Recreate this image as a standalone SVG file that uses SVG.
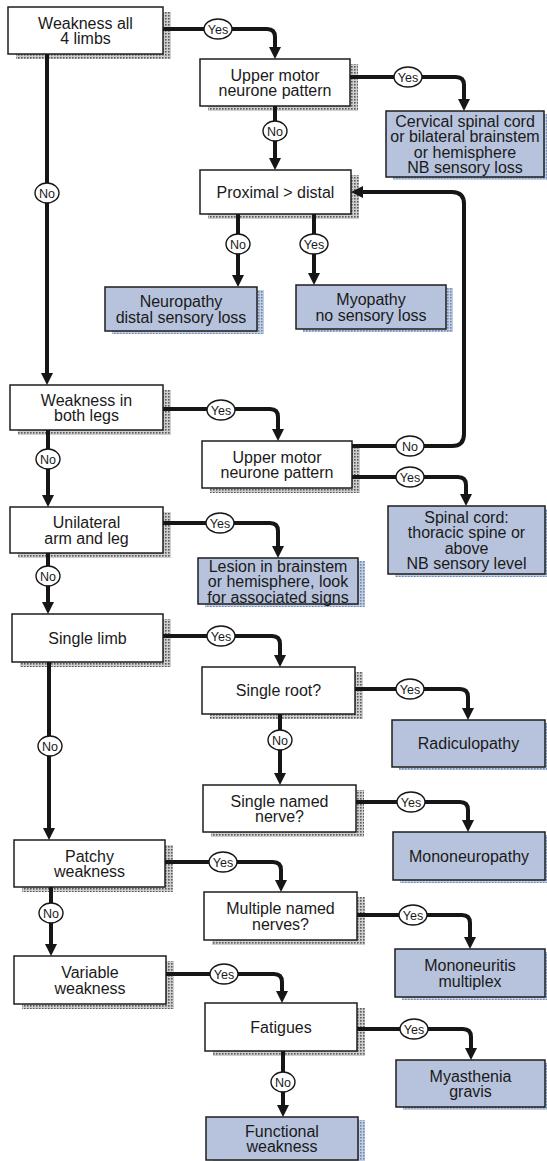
<svg xmlns="http://www.w3.org/2000/svg" width="547" height="1161" viewBox="0 0 547 1161">
<defs>
<pattern id="htw" width="3" height="3" patternUnits="userSpaceOnUse"><rect width="3" height="3" fill="#cfcfcf"/><rect width="1.6" height="1.6" fill="#5a5a5a"/></pattern>
<pattern id="htb" width="3" height="3" patternUnits="userSpaceOnUse"><rect width="3" height="3" fill="#c2cde2"/><rect width="1.6" height="1.6" fill="#7088b8"/></pattern>
<marker id="ah" viewBox="0 0 12 12" markerWidth="12" markerHeight="12" markerUnits="userSpaceOnUse" refX="0" refY="6" orient="auto"><path d="M0,0 L12,6 L0,12 z" fill="#161616"/></marker>
</defs>
<style>
.box{fill:#fff;stroke:#1e1e1e;stroke-width:1.5}
.res{fill:#b7c3dc;stroke:#1e1e1e;stroke-width:1.5}
.shw{fill:url(#htw)}
.shb{fill:url(#htb)}
text{font-family:"Liberation Sans",Arial,Helvetica,sans-serif;fill:#1a1a1a;text-anchor:middle}
.t{font-size:16px}
.l{font-size:12.5px}
.c{fill:none;stroke:#161616;stroke-width:4;stroke-linejoin:round;marker-end:url(#ah)}
.lab{fill:#fff;stroke:#161616;stroke-width:1.4}
</style>
<rect width="547" height="1161" fill="#fff"/>

<g id="n1"><rect class="shw" x="16" y="12" width="155" height="47"/><rect class="box" x="8" y="7" width="155" height="47"/><text class="t" x="85.5" y="28.5">Weakness all</text><text class="t" x="85.5" y="44">4 limbs</text></g>
<g id="n2"><rect class="shw" x="208" y="64" width="150" height="47"/><rect class="box" x="200" y="59" width="150" height="47"/><text class="t" x="275" y="80.5">Upper motor</text><text class="t" x="275" y="96">neurone pattern</text></g>
<g id="n3"><rect class="shb" x="393" y="114" width="158" height="66"/><rect class="res" x="386" y="111" width="158" height="66"/><text class="t" x="465" y="126.5">Cervical spinal cord</text><text class="t" x="465" y="142">or bilateral brainstem</text><text class="t" x="465" y="157.5">or hemisphere</text><text class="t" x="465" y="173">NB sensory loss</text></g>
<g id="n4"><rect class="shw" x="208" y="175" width="151" height="44"/><rect class="box" x="200" y="170" width="151" height="44"/><text class="t" x="275.5" y="197.5">Proximal &gt; distal</text></g>
<g id="n5"><rect class="shb" x="112" y="290" width="152" height="44"/><rect class="res" x="105" y="287" width="152" height="44"/><text class="t" x="181" y="307">Neuropathy</text><text class="t" x="181" y="322.5">distal sensory loss</text></g>
<g id="n6"><rect class="shb" x="303" y="288" width="150" height="44"/><rect class="res" x="296" y="285" width="150" height="44"/><text class="t" x="371" y="305">Myopathy</text><text class="t" x="371" y="320.5">no sensory loss</text></g>
<g id="n7"><rect class="shw" x="18" y="390" width="153" height="45"/><rect class="box" x="10" y="385" width="153" height="45"/><text class="t" x="86.5" y="405.5">Weakness in</text><text class="t" x="86.5" y="421">both legs</text></g>
<g id="n8"><rect class="shw" x="210" y="446" width="150" height="47"/><rect class="box" x="202" y="441" width="150" height="47"/><text class="t" x="277" y="462.5">Upper motor</text><text class="t" x="277" y="478">neurone pattern</text></g>
<g id="n9"><rect class="shb" x="395" y="509" width="157" height="68"/><rect class="res" x="388" y="506" width="157" height="68"/><text class="t" x="466.5" y="522.5">Spinal cord:</text><text class="t" x="466.5" y="538">thoracic spine or</text><text class="t" x="466.5" y="553.5">above</text><text class="t" x="466.5" y="569">NB sensory level</text></g>
<g id="n10"><rect class="shw" x="18" y="512" width="153" height="46"/><rect class="box" x="10" y="507" width="153" height="46"/><text class="t" x="86.5" y="528">Unilateral</text><text class="t" x="86.5" y="543.5">arm and leg</text></g>
<g id="n11"><rect class="shb" x="205" y="561" width="160" height="46"/><rect class="res" x="198" y="558" width="160" height="46"/><text class="t" x="278" y="571.5">Lesion in brainstem</text><text class="t" x="278" y="587">or hemisphere, look</text><text class="t" x="278" y="602.5">for associated signs</text></g>
<g id="n12"><rect class="shw" x="20" y="619" width="151" height="48"/><rect class="box" x="12" y="614" width="151" height="48"/><text class="t" x="87.5" y="643.5">Single limb</text></g>
<g id="n13"><rect class="shw" x="210" y="672" width="153" height="47"/><rect class="box" x="202" y="667" width="153" height="47"/><text class="t" x="278.5" y="696">Single root?</text></g>
<g id="n14"><rect class="shb" x="399" y="723" width="153" height="47"/><rect class="res" x="392" y="720" width="153" height="47"/><text class="t" x="468.5" y="749">Radiculopathy</text></g>
<g id="n15"><rect class="shw" x="211" y="790" width="153" height="47"/><rect class="box" x="203" y="785" width="153" height="47"/><text class="t" x="279.5" y="806.5">Single named</text><text class="t" x="279.5" y="822">nerve?</text></g>
<g id="n16"><rect class="shb" x="400" y="835" width="152" height="48"/><rect class="res" x="393" y="832" width="152" height="48"/><text class="t" x="469" y="861.5">Mononeuropathy</text></g>
<g id="n17"><rect class="shw" x="22" y="845" width="151" height="47"/><rect class="box" x="14" y="840" width="151" height="47"/><text class="t" x="89.5" y="861.5">Patchy</text><text class="t" x="89.5" y="877">weakness</text></g>
<g id="n18"><rect class="shw" x="212" y="897" width="153" height="48"/><rect class="box" x="204" y="892" width="153" height="48"/><text class="t" x="280.5" y="914">Multiple named</text><text class="t" x="280.5" y="929.5">nerves?</text></g>
<g id="n19"><rect class="shb" x="402" y="952" width="150" height="48"/><rect class="res" x="395" y="949" width="150" height="48"/><text class="t" x="470" y="971">Mononeuritis</text><text class="t" x="470" y="986.5">multiplex</text></g>
<g id="n20"><rect class="shw" x="22" y="961" width="152" height="48"/><rect class="box" x="14" y="956" width="152" height="48"/><text class="t" x="90" y="978">Variable</text><text class="t" x="90" y="993.5">weakness</text></g>
<g id="n21"><rect class="shw" x="213" y="1008" width="152" height="48"/><rect class="box" x="205" y="1003" width="152" height="48"/><text class="t" x="281" y="1032.5">Fatigues</text></g>
<g id="n22"><rect class="shb" x="403" y="1063" width="149" height="47"/><rect class="res" x="396" y="1060" width="149" height="47"/><text class="t" x="470.5" y="1081.5">Myasthenia</text><text class="t" x="470.5" y="1097">gravis</text></g>
<g id="n23"><rect class="shb" x="213" y="1120" width="152" height="43"/><rect class="res" x="206" y="1117" width="152" height="43"/><text class="t" x="282" y="1136.5">Functional</text><text class="t" x="282" y="1152">weakness</text></g>

<g id="connectors">
<path class="c" d="M163,29 H267 Q275,29 275,37 V47"/>
<path class="c" d="M350,77 H456 Q464,77 464,85 V99"/>
<path class="c" d="M275,106 V158"/>
<path class="c" d="M238,214 V275"/>
<path class="c" d="M314,214 V273"/>
<path class="c" d="M47,54 V373"/>
<path class="c" d="M163,409 H270 Q278,409 278,417 V429"/>
<path class="c" d="M352,446 H452 Q464,446 464,434 V204 Q464,192 452,192 H363"/>
<path class="c" d="M352,477 H458 Q466,477 466,485 V494"/>
<path class="c" d="M48,430 V495"/>
<path class="c" d="M163,523 H270 Q278,523 278,531 V546"/>
<path class="c" d="M48,553 V602"/>
<path class="c" d="M163,636 H272 Q280,636 280,644 V655"/>
<path class="c" d="M355,689 H460 Q468,689 468,697 V708"/>
<path class="c" d="M280,714 V773"/>
<path class="c" d="M356,802 H460 Q468,802 468,810 V820"/>
<path class="c" d="M49,662 V828"/>
<path class="c" d="M165,862 H273 Q281,862 281,870 V880"/>
<path class="c" d="M357,915 H462 Q470,915 470,923 V937"/>
<path class="c" d="M51,887 V944"/>
<path class="c" d="M166,974 H274 Q282,974 282,982 V991"/>
<path class="c" d="M357,1029 H463 Q471,1029 471,1037 V1048"/>
<path class="c" d="M283,1051 V1105"/>

<ellipse class="lab" cx="218" cy="29" rx="14" ry="10"/><text class="l" x="218" y="33.5">Yes</text>
<ellipse class="lab" cx="408" cy="77" rx="14" ry="10"/><text class="l" x="408" y="81.5">Yes</text>
<ellipse class="lab" cx="275" cy="131" rx="12" ry="10"/><text class="l" x="275" y="135.5">No</text>
<ellipse class="lab" cx="238" cy="244" rx="12" ry="10"/><text class="l" x="238" y="248.5">No</text>
<ellipse class="lab" cx="314" cy="244" rx="14" ry="10"/><text class="l" x="314" y="248.5">Yes</text>
<ellipse class="lab" cx="47" cy="193" rx="12" ry="10"/><text class="l" x="47" y="197.5">No</text>
<ellipse class="lab" cx="221" cy="410" rx="14" ry="10"/><text class="l" x="221" y="414.5">Yes</text>
<ellipse class="lab" cx="410" cy="446" rx="14" ry="10"/><text class="l" x="410" y="450.5">No</text>
<ellipse class="lab" cx="410" cy="477" rx="14" ry="10"/><text class="l" x="410" y="481.5">Yes</text>
<ellipse class="lab" cx="48" cy="459" rx="12" ry="10"/><text class="l" x="48" y="463.5">No</text>
<ellipse class="lab" cx="220" cy="523" rx="14" ry="10"/><text class="l" x="220" y="527.5">Yes</text>
<ellipse class="lab" cx="48" cy="576" rx="12" ry="10"/><text class="l" x="48" y="580.5">No</text>
<ellipse class="lab" cx="221" cy="636" rx="14" ry="10"/><text class="l" x="221" y="640.5">Yes</text>
<ellipse class="lab" cx="410" cy="689" rx="14" ry="10"/><text class="l" x="410" y="693.5">Yes</text>
<ellipse class="lab" cx="280" cy="740" rx="12" ry="10"/><text class="l" x="280" y="744.5">No</text>
<ellipse class="lab" cx="411" cy="802" rx="14" ry="10"/><text class="l" x="411" y="806.5">Yes</text>
<ellipse class="lab" cx="50" cy="746" rx="12" ry="10"/><text class="l" x="50" y="750.5">No</text>
<ellipse class="lab" cx="223" cy="862" rx="14" ry="10"/><text class="l" x="223" y="866.5">Yes</text>
<ellipse class="lab" cx="413" cy="915" rx="14" ry="10"/><text class="l" x="413" y="919.5">Yes</text>
<ellipse class="lab" cx="51" cy="913" rx="12" ry="10"/><text class="l" x="51" y="917.5">No</text>
<ellipse class="lab" cx="224" cy="974" rx="14" ry="10"/><text class="l" x="224" y="978.5">Yes</text>
<ellipse class="lab" cx="414" cy="1029" rx="14" ry="10"/><text class="l" x="414" y="1033.5">Yes</text>
<ellipse class="lab" cx="283" cy="1082" rx="12" ry="10"/><text class="l" x="283" y="1086.5">No</text>
</g>
</svg>
